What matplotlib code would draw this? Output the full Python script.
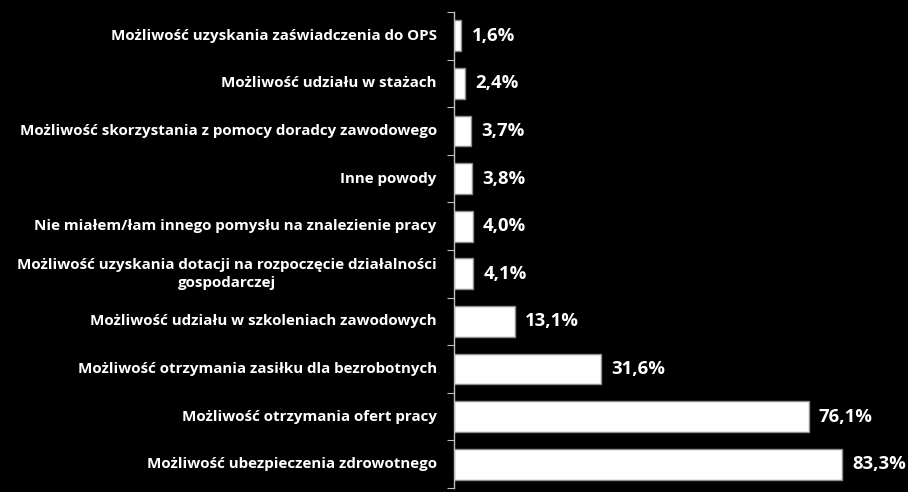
import matplotlib
matplotlib.use('Agg')
import matplotlib.pyplot as plt

# dane (od dołu do góry)
labels = [
    'Możliwość ubezpieczenia zdrowotnego',
    'Możliwość otrzymania ofert pracy',
    'Możliwość otrzymania zasiłku dla bezrobotnych',
    'Możliwość udziału w szkoleniach zawodowych',
    'Możliwość uzyskania dotacji na rozpoczęcie działalności\ngospodarczej',
    'Nie miałem/łam innego pomysłu na znalezienie pracy',
    'Inne powody',
    'Możliwość skorzystania z pomocy doradcy zawodowego',
    'Możliwość udziału w stażach',
    'Możliwość uzyskania zaświadczenia do OPS',
]
values = [83.3, 76.1, 31.6, 13.1, 4.1, 4.0, 3.8, 3.7, 2.4, 1.6]

plt.rcParams['font.family'] = ['Open Sans', 'DejaVu Sans']

fig = plt.figure(figsize=(9.08, 4.92), dpi=100, facecolor='black')
ax = fig.add_axes([454 / 908, 4 / 492, 454 / 908, 476 / 492])
ax.set_facecolor('black')

pos = list(range(len(values)))
ax.barh(pos, values, height=0.65, color='white', edgecolor='#8c8c8c', linewidth=1)

for p, v in zip(pos, values):
    ax.text(v + 2.2, p, f'{v:.1f}%'.replace('.', ','), color='white',
            fontsize=13.3, fontweight='bold', va='center', ha='left')

for p, lab in zip(pos, labels):
    ax.text(-3.7, p, lab, color='white', fontsize=10.9, fontweight='bold',
            va='center', ha='right', multialignment='center',
            linespacing=1.4, clip_on=False)

ax.set_xlim(0, 454 / 4.66)
ax.set_ylim(-0.5, len(values) - 0.5)

# osie
for s in ['top', 'right', 'bottom']:
    ax.spines[s].set_visible(False)
ax.spines['left'].set_color('#bfbfbf')
ax.spines['left'].set_linewidth(1)
ax.set_xticks([])
ax.set_yticks([p - 0.5 for p in pos] + [len(values) - 0.5])
ax.set_yticklabels([])
ax.tick_params(axis='y', length=5, color='#bfbfbf', direction='out')

fig.savefig('out.png', dpi=100, facecolor='black')
